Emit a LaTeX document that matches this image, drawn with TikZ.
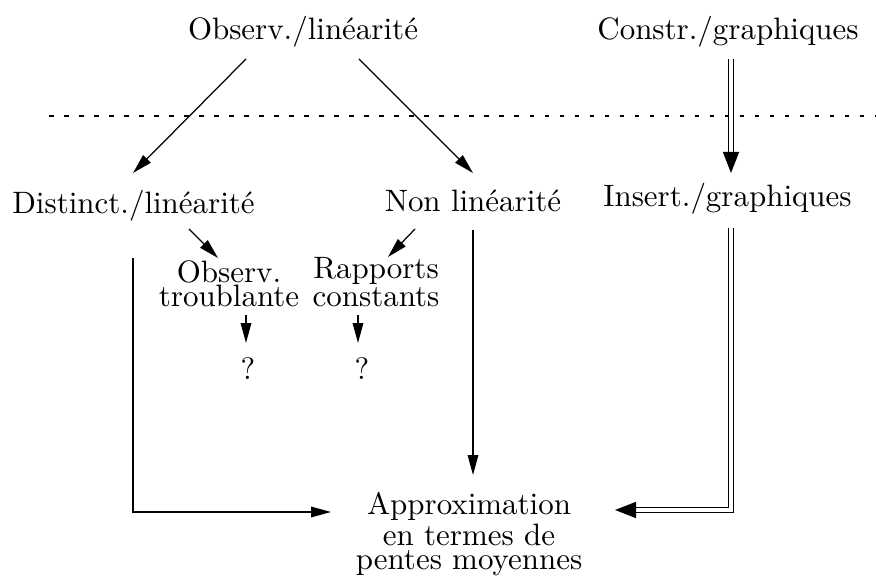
\documentclass[tikz,border=0pt]{standalone}
\usepackage{amsmath}
\usetikzlibrary{calc, positioning}
\usetikzlibrary{arrows.meta}

\tikzset{
  lbl/.style={inner sep=0pt, anchor=base, align=center,
    font=\fontsize{10}{7.9}\selectfont},
  arr/.style={line width=0.4pt, -{Triangle[length=6.4pt, width=3.4pt]}},
  dblarr/.style={line width=0.4pt, double, double distance=1.4pt,
    -{Triangle[length=6.8pt, width=5.2pt]}},
  sep/.style={line width=0.4pt, dash pattern=on 1.5pt off 3.35pt}
}

\begin{document}
\begin{tikzpicture}[x=0.323pt, y=-0.323pt]
\useasboundingbox (0,0) rectangle (876,583);

% top row
\node[lbl] (obs) at (303,40) {Observ./linéarité};
\node[lbl] (constr) at (728,40) {Constr./graphiques};

% separator
\coordinate (sepL) at (49,116);
\coordinate (sepR) at (876,116);
\draw[sep] (sepL) -- (sepR);

% middle row
\node[lbl] (dist) at (133.5,214) {Distinct./linéarité};
\node[lbl] (nonlin) at (473,212) {Non linéarité};
\node[lbl] (insert) at (727.5,207) {Insert./graphiques};

% base of a two-line node = last line
\node[lbl] (obstr) at (229,307) {Observ.\\troublante};
\node[lbl] (rapp) at (376,307) {Rapports\\constants};
\node[lbl] (q1) at (248,380) {?};
\node[lbl] (q2) at (362,380) {?};

% bottom
\node[lbl] (approx) at (469,570) {Approximation\\en termes de\\pentes moyennes};

% arrows
\draw[arr] ($(obs.base)+(-57,19)$) -- ($(dist.base)+(-0.5,-41)$);
\draw[arr] ($(obs.base)+(56,19)$) -- ($(nonlin.base)+(0,-39)$);
\draw[dblarr] ($(constr.base)+(3,19)$) -- ($(insert.base)+(3.5,-34)$);

\draw[arr] ($(dist.base)+(55.5,15)$) -- ($(obstr.base)+(-11,-49)$);
\draw[arr] ($(nonlin.base)+(-58,17)$) -- ($(rapp.base)+(12,-50)$);
\draw[arr] ($(obstr.base)+(17,8)$) -- ($(q1.base)+(-2,-37)$);
\draw[arr] ($(rapp.base)+(-18,8)$) -- ($(q2.base)+(-4,-37)$);

\draw[arr] ($(dist.base)+(-0.5,44)$) |- ($(approx.base)+(-138,-58)$);
\draw[arr] ($(nonlin.base)+(0,18)$) -- ($(approx.base)+(4,-95)$);
\draw[dblarr] ($(insert.base)+(3.5,21)$) |- ($(approx.base)+(146,-60)$);
\end{tikzpicture}
\end{document}
